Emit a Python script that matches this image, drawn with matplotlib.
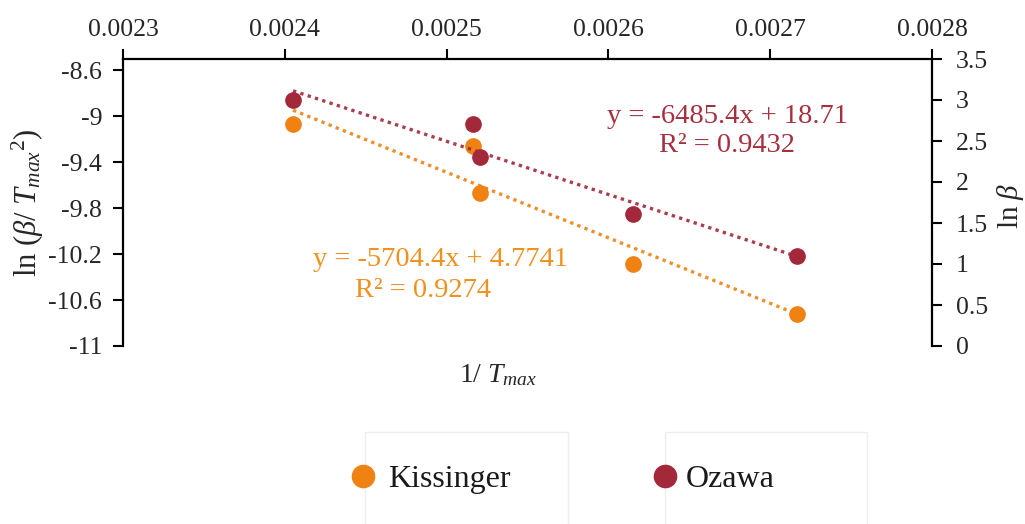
import matplotlib
matplotlib.use("Agg")
import matplotlib.pyplot as plt
from matplotlib.lines import Line2D
from matplotlib.patches import Rectangle
import numpy as np

plt.rcParams['font.family'] = ['Liberation Serif', 'DejaVu Serif']
plt.rcParams['mathtext.fontset'] = 'custom'
plt.rcParams['mathtext.rm'] = 'Liberation Serif'
plt.rcParams['mathtext.it'] = 'Liberation Serif:italic'

# 1/Tmax values (1/K) for the five heating rates
inv_tmax = [0.0024051, 0.0025163, 0.0025206, 0.0026152, 0.0027166]
# Kissinger: ln(beta / Tmax^2), left axis
kissinger = [-9.062, -9.260, -9.663, -10.283, -10.717]
# Ozawa: ln(beta), right axis
ozawa = [3.00, 2.71, 2.30, 1.61, 1.10]

# Linear fits reported on the chart
kis_slope, kis_icpt, kis_r2 = -5704.4, 4.7741, 0.9274
oza_slope, oza_icpt, oza_r2 = -6485.4, 18.71, 0.9432

x_ticks = [0.0023, 0.0024, 0.0025, 0.0026, 0.0027, 0.0028]
x_labels = ['0.0023', '0.0024', '0.0025', '0.0026', '0.0027', '0.0028']
left_ticks = [-11, -10.6, -10.2, -9.8, -9.4, -9, -8.6]
left_labels = ['-11', '-10.6', '-10.2', '-9.8', '-9.4', '-9', '-8.6']
right_ticks = [0, 0.5, 1, 1.5, 2, 2.5, 3, 3.5]
right_labels = ['0', '0.5', '1', '1.5', '2', '2.5', '3', '3.5']

c_kis = '#EF8212'
c_kis_txt = '#F0901E'
c_oza = '#A2283A'
c_oza_txt = '#A5303F'
tick_col = '#262626'

fig = plt.figure(figsize=(10.25, 5.24), dpi=100)
ax = fig.add_axes([123 / 1025, 178 / 524, 809 / 1025, 287 / 524])
ax2 = ax.twinx()

# Kissinger series + trendline
ax.plot(inv_tmax, kissinger, 'o', color=c_kis, markersize=11, zorder=3)
xs = np.array([min(inv_tmax), max(inv_tmax)])
ax.plot(xs, kis_slope * xs + kis_icpt, color=c_kis, lw=2.4,
        linestyle=(0, (1, 1.3)), alpha=0.9, zorder=2)

# Ozawa series + trendline
ax2.plot(inv_tmax, ozawa, 'o', color=c_oza, markersize=11, zorder=3)
ax2.plot(xs, oza_slope * xs + oza_icpt, color=c_oza, lw=2.4,
         linestyle=(0, (1, 1.3)), alpha=0.9, zorder=2)

ax.set_xlim(0.0023, 0.0028)
ax.set_ylim(-11, -8.5)
ax2.set_ylim(0, 3.5)

ax.xaxis.tick_top()
ax.set_xticks(x_ticks)
ax.set_xticklabels(x_labels)
ax.set_yticks(left_ticks)
ax.set_yticklabels(left_labels)
ax2.set_yticks(right_ticks)
ax2.set_yticklabels(right_labels)

for a in (ax, ax2):
    a.tick_params(direction='out', length=7, width=1.5, labelsize=18.5,
                  colors='black', labelcolor=tick_col)
    a.spines['bottom'].set_visible(False)
    for s in ('top', 'left', 'right'):
        a.spines[s].set_linewidth(1.6)
ax.tick_params(axis='x', pad=6)
ax.tick_params(axis='y', pad=8)
ax2.tick_params(axis='y', pad=10)
ax.spines['right'].set_visible(False)
ax2.spines['left'].set_visible(False)
ax2.spines['top'].set_visible(False)

# axis titles
ax.xaxis.set_label_position('bottom')
ax.set_xlabel(r'1/ $T_{max}$', fontsize=20, color=tick_col)
ax.xaxis.set_label_coords(0.4635, -0.101)
ax.xaxis.label.set_va('center')
ax.set_ylabel(r'ln ($\beta$/ $T_{max}{}^{2}$)', fontsize=22, color=tick_col)
ax.yaxis.set_label_coords(-0.118, 0.5)
ax.yaxis.label.set_va('center')
ax2.set_ylabel(r'ln $\beta$', fontsize=21, color=tick_col)
ax2.yaxis.set_label_coords(1.097, 0.49)
ax2.yaxis.label.set_va('center')
ax2.yaxis.label.set_rotation(90)

# trendline equations
ax.text(0.7466, 0.801, f'y = {oza_slope}x + {oza_icpt}', transform=ax.transAxes,
        ha='center', va='center', fontsize=20.5, color=c_oza_txt)
ax.text(0.7466, 0.697, f'R² = {oza_r2}', transform=ax.transAxes,
        ha='center', va='center', fontsize=20.5, color=c_oza_txt)
ax.text(0.392, 0.303, f'y = {kis_slope}x + {kis_icpt}', transform=ax.transAxes,
        ha='center', va='center', fontsize=20.5, color=c_kis_txt)
ax.text(0.371, 0.195, f'R² = {kis_r2}', transform=ax.transAxes,
        ha='center', va='center', fontsize=20.5, color=c_kis_txt)

# legend boxes
for (x0, x1) in [(365, 568), (665, 867)]:
    fig.add_artist(Rectangle((x0 / 1025, -0.05), (x1 - x0) / 1025, (524 - 432) / 524 + 0.05,
                             transform=fig.transFigure, fill=False,
                             edgecolor='#EEEEEE', lw=1.0))

for name, col, mx, pad in [('Kissinger', c_kis, 363, 0.30), ('Ozawa', c_oza, 665, 0.14)]:
    h = Line2D([], [], marker='o', linestyle='none', color=col, markersize=16)
    fig.legend([h], [name], loc='center left',
               bbox_to_anchor=((mx - 16) / 1025, (524 - 479) / 524),
               bbox_transform=fig.transFigure, frameon=False, fontsize=23,
               handlelength=1.0, handletextpad=pad, borderpad=0,
               borderaxespad=0, labelcolor='#1a1a1a')

fig.savefig('out.png', dpi=100)
